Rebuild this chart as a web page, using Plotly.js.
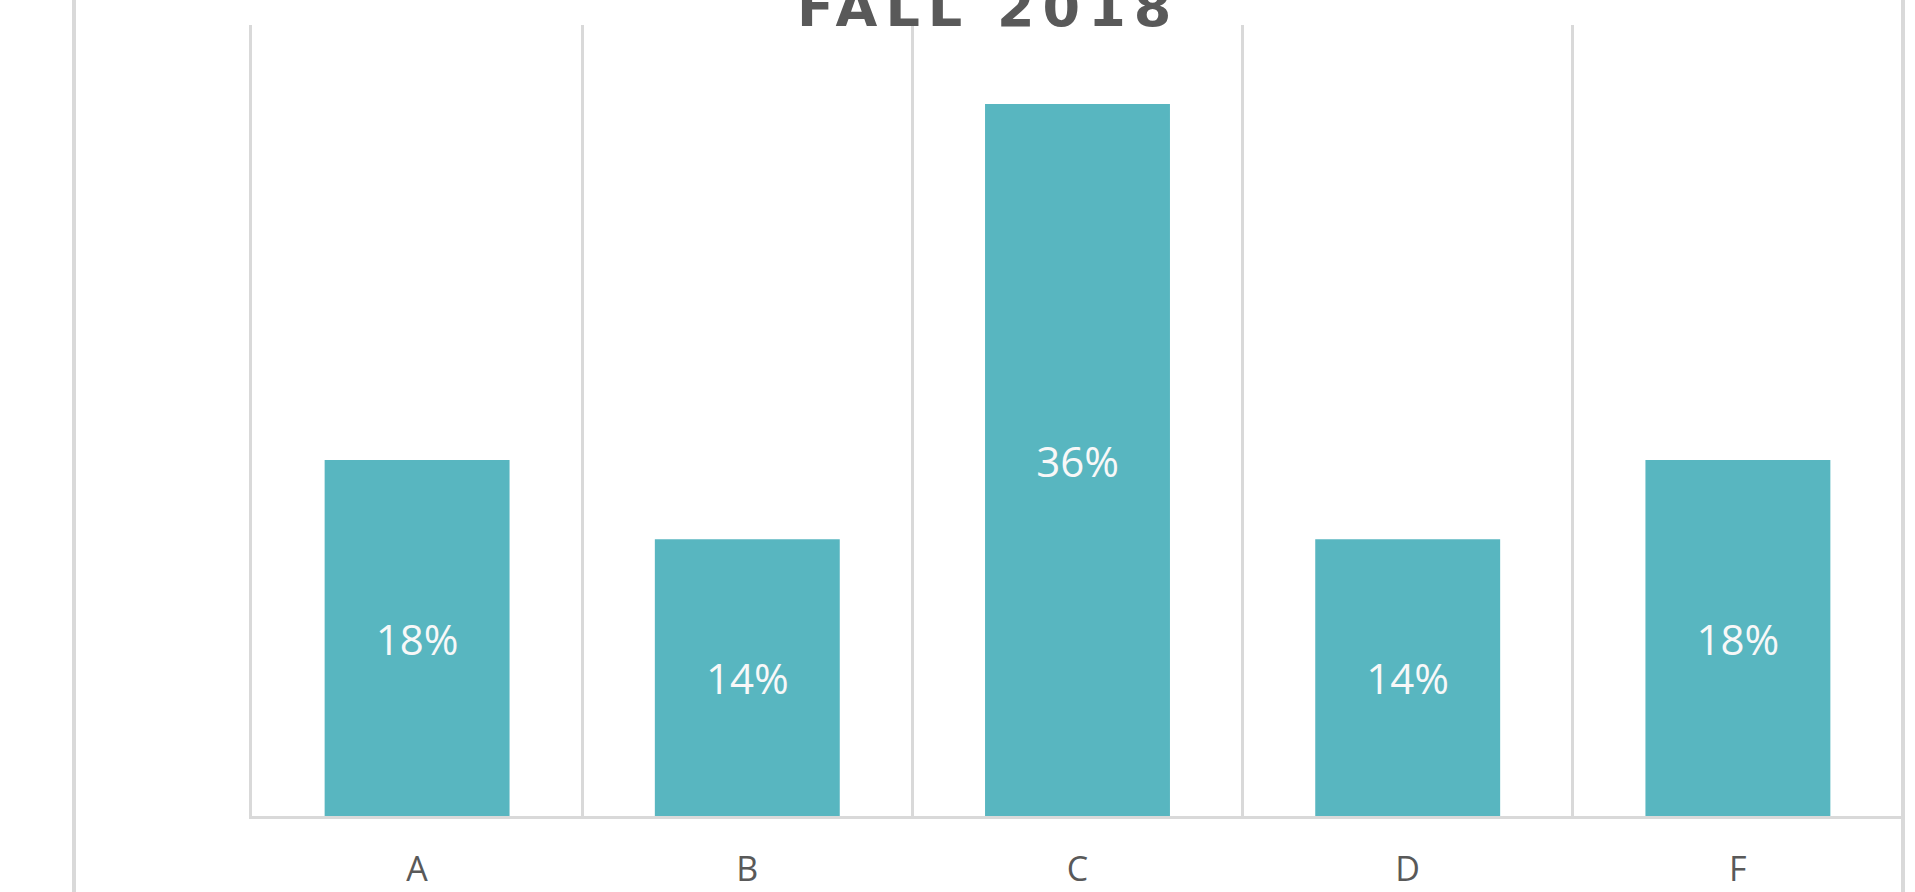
<!DOCTYPE html>
<html>
<head>
<meta charset="utf-8">
<script src="https://cdn.plot.ly/plotly-3.0.1.min.js"></script>
<style>
html,body{margin:0;padding:0;background:#fff;}
#chart{width:1915px;height:892px;}
.gtitle{letter-spacing:8px;}
</style>
</head>
<body>
<div id="chart"></div>
<script>
const grades = ["A", "B", "C", "D", "F"];
const shares = [18, 14, 36, 14, 18];
const labels = ["18%", "14%", "36%", "14%", "18%"];
const chartTitle = "FALL 2018";

const trace = {
  type: "bar",
  x: grades,
  y: shares,
  text: labels,
  textposition: "inside",
  insidetextanchor: "middle",
  textangle: 0,
  textfont: {family: "Open Sans, sans-serif", size: 42, color: "#f8f8f8"},
  marker: {color: "#58B6C0", line: {width: 0}},
  hoverinfo: "none",
  cliponaxis: false
};

const layout = {
  width: 1915,
  height: 892,
  paper_bgcolor: "#ffffff",
  plot_bgcolor: "#ffffff",
  margin: {l: 252, r: 12, t: 25, b: 76},
  showlegend: false,
  bargap: 0.44,
  font: {family: "Open Sans, sans-serif", color: "#595959"},
  title: {
    text: chartTitle,
    font: {family: "DejaVu Sans, sans-serif", size: 54, color: "#595959", weight: "bold"},
    xref: "container", x: 0.516, xanchor: "center",
    yref: "container", y: 0.992, yanchor: "middle"
  },
  xaxis: {
    type: "category",
    tickson: "boundaries",
    showgrid: true,
    gridcolor: "#d9d9d9",
    gridwidth: 3,
    showline: true,
    linecolor: "#d9d9d9",
    linewidth: 3,
    ticks: "",
    ticklabelstandoff: 21,
    tickfont: {family: "Open Sans, sans-serif", size: 34, color: "#595959"},
    zeroline: false,
    fixedrange: true
  },
  yaxis: {
    range: [0, 40],
    showgrid: false,
    showline: true,
    linecolor: "#d9d9d9",
    linewidth: 3,
    showticklabels: false,
    ticks: "",
    zeroline: false,
    fixedrange: true
  },
  shapes: [
    {type: "line", xref: "paper", yref: "paper", x0: -0.1078, x1: -0.1078, y0: -0.2, y1: 1.2,
     line: {color: "#d9d9d9", width: 4}, layer: "below"},
    {type: "line", xref: "paper", yref: "paper", x0: 1, x1: 1, y0: -0.2, y1: 1.2,
     line: {color: "#d9d9d9", width: 4}, layer: "below"}
  ]
};

Plotly.newPlot("chart", [trace], layout, {displayModeBar: false, staticPlot: true});
</script>
</body>
</html>
